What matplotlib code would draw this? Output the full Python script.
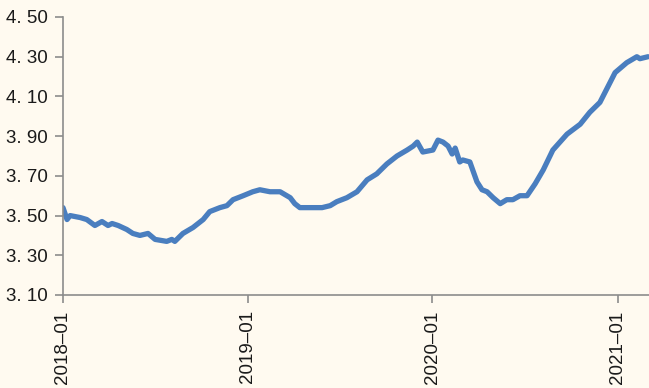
import matplotlib
matplotlib.use('Agg')
import matplotlib.pyplot as plt
import matplotlib.dates as mdates
import pandas as pd
from matplotlib.ticker import FuncFormatter

# Valores (fecha, nivel)
fechas = [
    '2018-01-01', '2018-01-09', '2018-01-15', '2018-02-04', '2018-02-17',
    '2018-03-05', '2018-03-19', '2018-03-31', '2018-04-08', '2018-04-20',
    '2018-05-07', '2018-05-19', '2018-06-02', '2018-06-18', '2018-07-02',
    '2018-07-25', '2018-08-04', '2018-08-10', '2018-08-26', '2018-09-15',
    '2018-10-05', '2018-10-18', '2018-11-07', '2018-11-21', '2018-12-03',
    '2018-12-23', '2019-01-11', '2019-01-25', '2019-02-14', '2019-03-06',
    '2019-03-26', '2019-04-04', '2019-04-14', '2019-05-04', '2019-05-28',
    '2019-06-13', '2019-06-26', '2019-07-16', '2019-08-05', '2019-08-25',
    '2019-09-13', '2019-10-03', '2019-10-23', '2019-11-12', '2019-11-24',
    '2019-12-02', '2019-12-13', '2020-01-02', '2020-01-12', '2020-01-22',
    '2020-02-01', '2020-02-09', '2020-02-15', '2020-02-24', '2020-03-01',
    '2020-03-15', '2020-03-29', '2020-04-08', '2020-04-18', '2020-04-30',
    '2020-05-14', '2020-05-27', '2020-06-08', '2020-06-22', '2020-07-06',
    '2020-07-22', '2020-08-07', '2020-08-26', '2020-09-09', '2020-09-23',
    '2020-10-19', '2020-11-07', '2020-11-27', '2020-12-11', '2020-12-27',
    '2021-01-19', '2021-02-08', '2021-02-14', '2021-03-02',
]
valores = [
    3.54, 3.48, 3.50, 3.49, 3.48,
    3.45, 3.47, 3.45, 3.46, 3.45,
    3.43, 3.41, 3.40, 3.41, 3.38,
    3.37, 3.38, 3.37, 3.41, 3.44,
    3.48, 3.52, 3.54, 3.55, 3.58,
    3.60, 3.62, 3.63, 3.62, 3.62,
    3.59, 3.56, 3.54, 3.54, 3.54,
    3.55, 3.57, 3.59, 3.62, 3.68,
    3.71, 3.76, 3.80, 3.83, 3.85,
    3.87, 3.82, 3.83, 3.88, 3.87,
    3.85, 3.81, 3.84, 3.77, 3.78,
    3.77, 3.67, 3.63, 3.62, 3.59,
    3.56, 3.58, 3.58, 3.60, 3.60,
    3.66, 3.73, 3.83, 3.87, 3.91,
    3.96, 4.02, 4.07, 4.14, 4.22,
    4.27, 4.30, 4.29, 4.30,
]
yticks = [3.10, 3.30, 3.50, 3.70, 3.90, 4.10, 4.30, 4.50]
xticks = ['2018-01-01', '2019-01-01', '2020-01-01', '2021-01-01']

fondo = '#fffaf0'
gris = '#8c8c8c'

fig = plt.figure(figsize=(6.49, 3.88), dpi=100, facecolor=fondo)
ax = fig.add_axes([63 / 649, 93 / 388, 586 / 649, 278 / 388])
ax.set_facecolor(fondo)

ax.plot(pd.to_datetime(fechas), valores, color='#4a7ebf', lw=3.8,
        solid_joinstyle='round', solid_capstyle='round')

ax.set_ylim(3.10, 4.50)
ax.set_yticks(yticks)
# el original muestra "4. 50" (punto ancho)
ax.yaxis.set_major_formatter(FuncFormatter(lambda v, _: f'{v:.2f}'.replace('.', '. ')))
ax.set_xlim(pd.Timestamp('2018-01-01'), pd.Timestamp('2021-03-04'))
ax.set_xticks(pd.to_datetime(xticks))
ax.xaxis.set_major_formatter(mdates.DateFormatter('%Y–%m'))

for s in ['top', 'right']:
    ax.spines[s].set_visible(False)
for s in ['left', 'bottom']:
    ax.spines[s].set_color(gris)
    ax.spines[s].set_linewidth(1.2)

ax.tick_params(axis='both', colors=gris, length=6, width=1.2,
               labelcolor='#1a1a1a', labelsize=13.5)
ax.tick_params(axis='y', pad=5)
ax.tick_params(axis='x', pad=5, labelrotation=90)
for lab in ax.get_xticklabels() + ax.get_yticklabels():
    lab.set_family(['Liberation Sans', 'DejaVu Sans'])

fig.savefig('out.png', dpi=100, facecolor=fondo)
